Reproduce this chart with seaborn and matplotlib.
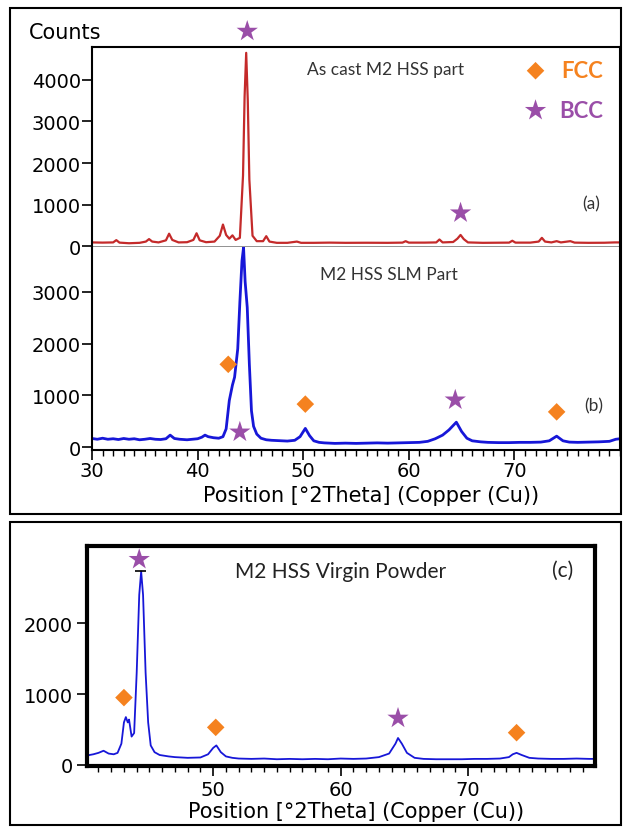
import matplotlib
matplotlib.use('Agg')
import matplotlib.pyplot as plt
from matplotlib.patches import Rectangle
from matplotlib.ticker import MultipleLocator
import seaborn as sns

## DATA
# (a) as cast part
cast_x = [30.0, 31.0, 32.0, 32.3, 32.6, 33.5, 34.5, 35.1, 35.4, 35.7, 36.3, 37.0, 37.3, 37.6,
          38.2, 39.0, 39.6, 39.9, 40.2, 40.8, 41.6, 42.1, 42.4, 42.7, 43.0, 43.3, 43.6, 44.0,
          44.3, 44.45, 44.6, 44.75, 44.9, 45.2, 45.6, 46.2, 46.5, 46.8, 47.5, 48.5, 49.4, 49.8,
          51.0, 52.5, 54.0, 56.0, 58.0, 59.4, 59.7, 60.0, 61.5, 62.6, 62.9, 63.2, 64.2, 64.6,
          64.9, 65.2, 65.6, 67.0, 69.5, 69.8, 70.1, 71.5, 72.3, 72.6, 72.9, 73.5, 74.0, 74.4,
          75.3, 75.7, 77.0, 78.5, 79.5, 80.0]
cast_y = [90, 85, 90, 145, 85, 70, 80, 110, 170, 110, 90, 140, 300, 150,
          90, 95, 150, 310, 140, 95, 110, 250, 520, 270, 180, 260, 150, 200,
          1700, 3600, 4650, 3500, 1600, 250, 120, 120, 240, 110, 80, 80, 110, 80,
          80, 85, 80, 82, 80, 85, 120, 85, 85, 90, 160, 90, 100, 180,
          270, 170, 90, 80, 85, 130, 85, 85, 110, 200, 110, 90, 120, 90,
          120, 85, 80, 82, 90, 90]

# (b) SLM part
slm_x = [30.0, 30.5, 31.0, 31.5, 32.0, 32.5, 33.0, 33.5, 34.0, 34.5, 35.0, 35.5, 36.0, 36.5,
         37.0, 37.4, 37.8, 38.3, 39.0, 39.5, 40.0, 40.4, 40.7, 41.0, 41.5, 42.0, 42.4, 42.7,
         43.0, 43.3, 43.5, 43.8, 44.0, 44.2, 44.35, 44.5, 44.7, 44.9, 45.1, 45.3, 45.6, 46.0,
         46.5, 47.0, 47.5, 48.0, 48.5, 49.2, 49.7, 50.2, 50.6, 51.0, 51.5, 52.0, 53.0, 54.0,
         55.0, 56.0, 57.0, 58.0, 59.0, 60.0, 61.0, 61.8, 62.5, 63.2, 63.8, 64.5, 65.0, 65.5,
         66.0, 66.8, 67.5, 68.5, 69.5, 70.5, 71.5, 72.5, 73.3, 74.0, 74.6, 75.2, 76.0, 77.0,
         78.0, 79.0, 79.6, 80.0]
slm_y = [165, 150, 170, 150, 160, 145, 165, 150, 160, 140, 150, 165, 150, 145,
         160, 230, 165, 150, 140, 150, 160, 190, 230, 200, 180, 170, 200, 350,
         900, 1200, 1350, 1900, 2800, 3600, 3860, 3200, 2700, 1600, 700, 400, 250, 170,
         140, 130, 125, 120, 115, 130, 200, 360, 220, 120, 90, 80, 70, 75,
         70, 75, 80, 75, 80, 85, 90, 110, 160, 230, 330, 480, 300, 170,
         120, 100, 90, 85, 85, 90, 90, 95, 120, 210, 120, 95, 90, 95,
         100, 110, 150, 160]

# (c) virgin powder
pow_x = [40.0, 40.3, 40.6, 41.0, 41.4, 41.8, 42.2, 42.5, 42.8, 43.0, 43.15, 43.3, 43.4, 43.6,
         43.8, 44.0, 44.2, 44.35, 44.5, 44.7, 44.9, 45.1, 45.4, 45.8, 46.5, 47.0, 48.0, 49.0,
         49.6, 50.0, 50.25, 50.6, 51.0, 51.5, 52.0, 53.0, 54.0, 55.0, 56.0, 57.0, 58.0, 59.0,
         60.0, 61.0, 62.0, 63.0, 63.8, 64.3, 64.5, 64.8, 65.2, 65.8, 66.5, 67.5, 68.5, 69.5,
         70.5, 71.5, 72.5, 73.2, 73.5, 73.8, 74.2, 74.8, 75.5, 76.5, 77.5, 78.5, 79.5, 80.0]
pow_y = [120, 140, 150, 170, 200, 160, 150, 170, 300, 600, 675, 600, 640, 400,
         450, 1300, 2400, 2730, 2400, 1300, 600, 275, 180, 140, 120, 110, 100, 105,
         150, 240, 275, 180, 120, 100, 90, 85, 90, 80, 85, 80, 85, 80,
         90, 85, 90, 110, 160, 300, 380, 300, 170, 100, 85, 80, 80, 80,
         85, 85, 90, 110, 150, 170, 140, 100, 90, 85, 85, 90, 85, 85]

# phase markers
a_bcc_x = [44.7, 64.9]
a_bcc_y = [5170, 800]
b_fcc_x = [42.9, 50.2, 74.0]
b_fcc_y = [1600, 830, 680]
b_bcc_x = [44.0, 64.4]
b_bcc_y = [290, 910]
c_fcc_x = [43.0, 50.2, 73.8]
c_fcc_y = [950, 530, 455]
c_bcc_x = [44.2, 64.5]
c_bcc_y = [2900, 660]
c_cap_x = [43.85, 44.75]
c_cap_y = 2730

RED = '#c42a2a'
BLUE = '#1717d8'
ORANGE = '#f5821f'
PURPLE = '#9a4ea8'
NOTE = '#333333'

sns.set_style('ticks')
plt.rcParams['font.family'] = ['DejaVu Sans']
plt.rcParams['text.color'] = 'black'
plt.rcParams['xtick.color'] = 'black'
plt.rcParams['ytick.color'] = 'black'
plt.rcParams['axes.labelcolor'] = 'black'

fig = plt.figure(figsize=(6.23, 8.28), dpi=100)

# outer frames
fig.add_artist(Rectangle((0.016, 0.378), 0.981, 0.611, transform=fig.transFigure,
                         fill=False, lw=1.5, ec='black'))
fig.add_artist(Rectangle((0.016, 0.002), 0.981, 0.366, transform=fig.transFigure,
                         fill=False, lw=1.5, ec='black'))

ax_a = fig.add_axes([0.1477, 0.7005, 0.8475, 0.2415])
ax_b = fig.add_axes([0.1477, 0.4553, 0.8475, 0.2452])
ax_c = fig.add_axes([0.1396, 0.0737, 0.8154, 0.2657])

star_kw = dict(marker='*', s=260, color=PURPLE, edgecolor='none', clip_on=False, zorder=5)
dia_kw = dict(marker='D', s=80, color=ORANGE, edgecolor='none', clip_on=False, zorder=5)
note_font = ['Lato', 'DejaVu Sans']

# ---- (a)
sns.lineplot(x=cast_x, y=cast_y, ax=ax_a, color=RED, lw=1.6)
sns.scatterplot(x=a_bcc_x, y=a_bcc_y, ax=ax_a, **star_kw)
sns.scatterplot(x=[72.0], y=[4220], ax=ax_a, **dia_kw)
sns.scatterplot(x=[72.0], y=[3265], ax=ax_a, **star_kw)
ax_a.text(74.4, 4220, 'FCC', color=ORANGE, fontsize=16, fontweight='bold',
          family=note_font, va='center')
ax_a.text(74.2, 3265, 'BCC', color=PURPLE, fontsize=16, fontweight='bold',
          family=note_font, va='center')
ax_a.text(50.4, 4260, 'As cast M2 HSS part', fontsize=12.5, family=note_font,
          color=NOTE, va='center')
ax_a.text(76.4, 1030, '(a)', fontsize=12.5, family=note_font, color=NOTE, va='center')
ax_a.set_xlim(30, 80)
ax_a.set_ylim(-20, 4790)
ax_a.yaxis.set_major_locator(MultipleLocator(1000))
ax_a.set_xticks([])
ax_a.spines['bottom'].set_color('#888888')
ax_a.spines['bottom'].set_linewidth(2)

# ---- (b)
sns.lineplot(x=slm_x, y=slm_y, ax=ax_b, color=BLUE, lw=2)
sns.scatterplot(x=b_fcc_x, y=b_fcc_y, ax=ax_b, **dia_kw)
sns.scatterplot(x=b_bcc_x, y=b_bcc_y, ax=ax_b, **star_kw)
ax_b.text(51.6, 3350, 'M2 HSS SLM Part', fontsize=12.5, family=note_font,
          color=NOTE, va='center')
ax_b.text(76.6, 800, '(b)', fontsize=12.5, family=note_font, color=NOTE, va='center')
ax_b.set_xlim(30, 80)
ax_b.set_ylim(-58, 3870)
ax_b.xaxis.set_minor_locator(MultipleLocator(1))
ax_b.set_xticks([30, 40, 50, 60, 70])
ax_b.yaxis.set_major_locator(MultipleLocator(1000))
ax_b.spines['top'].set_visible(False)
ax_b.set_xlabel('Position [°2Theta] (Copper (Cu))', fontsize=15)
ax_b.xaxis.set_label_coords(0.528, -0.172)

for ax in (ax_a, ax_b):
    for s in ('left', 'right', 'top', 'bottom'):
        if ax.spines[s].get_visible() and not (ax is ax_a and s == 'bottom'):
            ax.spines[s].set_linewidth(1.5)
            ax.spines[s].set_color('black')
    ax.tick_params(axis='both', which='major', direction='out', length=7, width=1.2,
                   labelsize=14, pad=1)
    ax.tick_params(axis='both', which='minor', direction='out', length=4, width=1)
    ax.set_ylabel('')

fig.text(29 / 623, 1 - 33 / 828, 'Counts', fontsize=15, ha='left', va='center')

# ---- (c)
sns.lineplot(x=pow_x, y=pow_y, ax=ax_c, color=BLUE, lw=1.3)
ax_c.hlines(c_cap_y, c_cap_x[0], c_cap_x[1], color='black', lw=1.2)
sns.scatterplot(x=c_fcc_x, y=c_fcc_y, ax=ax_c, **dia_kw)
sns.scatterplot(x=c_bcc_x, y=c_bcc_y, ax=ax_c, **star_kw)
ax_c.text(51.7, 2740, 'M2 HSS Virgin Powder', fontsize=15, family=note_font,
          color='#222222', va='center')
ax_c.text(76.6, 2750, '(c)', fontsize=15, family=note_font, color='#222222', va='center')
ax_c.set_xlim(40.1, 79.95)
ax_c.set_ylim(-15, 3090)
ax_c.set_xticks([50, 60, 70])
ax_c.xaxis.set_minor_locator(MultipleLocator(1))
ax_c.set_yticks([0, 1000, 2000])
for s in ax_c.spines.values():
    s.set_linewidth(3)
    s.set_color('black')
ax_c.tick_params(axis='both', which='major', direction='out', length=7, width=1.2,
                 labelsize=14, pad=3)
ax_c.tick_params(axis='both', which='minor', direction='out', length=4, width=1)
ax_c.set_xlabel('Position [°2Theta] (Copper (Cu))', fontsize=15)
ax_c.xaxis.set_label_coords(0.53, -0.158)

fig.savefig('out.png', dpi=100)
